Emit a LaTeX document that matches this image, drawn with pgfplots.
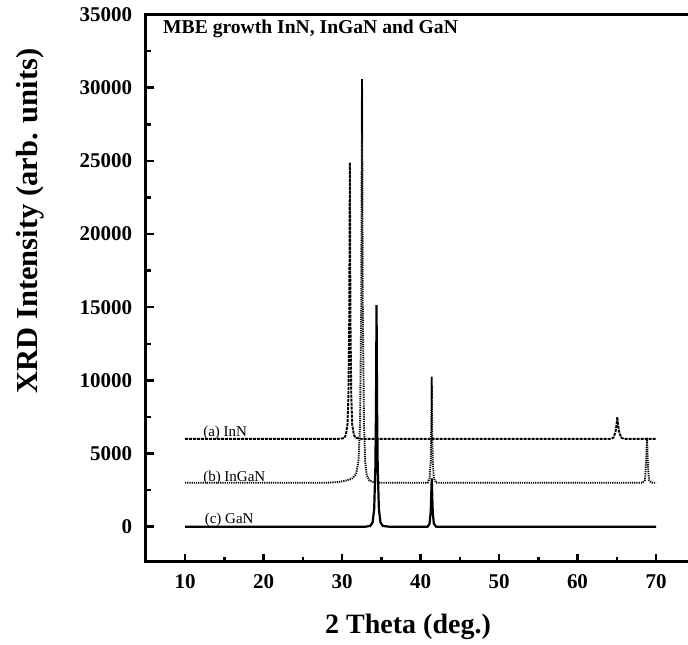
\documentclass[border=0pt]{standalone}
\usepackage{fontspec}
\setmainfont{Liberation Serif}
\usepackage{pgfplots}
\pgfplotsset{compat=1.18}
\begin{document}
\begin{tikzpicture}[x=1pt,y=1pt]
\begin{axis}[
  at={(145.75pt,83.2pt)}, anchor=south west,
  scale only axis, width=549.5pt, height=547.2pt,
  xmin=5, xmax=75, ymin=-2400, ymax=35000,
  xtick={10,20,...,70}, minor xtick={15,25,...,65},
  ytick={0,5000,...,35000}, minor ytick={2500,7500,...,32500},
  tick pos=left, tick align=inside,
  major tick length=8pt, minor tick length=5pt,
  tick style={line width=2.5pt, black},
  axis line style={line width=3pt},
  /pgf/number format/assume math mode=true,
  /pgf/number format/1000 sep={},
  scaled y ticks=false,
  ticklabel style={font=\bfseries\fontsize{21}{24}\selectfont},
  yticklabel style={anchor=east, inner sep=0pt, xshift=-13.5pt},
  xticklabel style={anchor=north, inner sep=0pt, yshift=-13pt},
]
% (a) InN
\addplot[black, line width=1.9pt, dash pattern=on 3pt off 1pt] coordinates {
(10,6000) (29.5,6000) (30.3,6050) (30.5,6300) (30.7,7000) (30.82,9000) (30.92,14000)
(31.0,24900) (31.08,14000) (31.18,9000) (31.3,7000) (31.5,6300) (31.7,6080) (32.5,6000)
(64.3,6000) (64.6,6100) (64.85,6500) (64.98,7000) (65.07,7500) (65.16,7000) (65.3,6500)
(65.55,6100) (65.9,6000) (70,6000)};
% (b) InGaN
\addplot[black, line width=1.9pt, dash pattern=on 1.2pt off 1pt] coordinates {
(10,3000) (28,3000) (29.5,3050) (30.5,3150) (31.3,3300) (31.8,3600) (32.1,4500) (32.3,7000)
(32.45,15000) (32.55,30600) (32.65,15000) (32.8,7000) (32.95,4500) (33.15,3500) (33.5,3150)
(34,3050) (35,3000) (40.9,3000) (41.15,3300) (41.3,4500) (41.38,7000) (41.43,10250)
(41.48,7000) (41.56,4500) (41.7,3300) (42,3000) (68.3,3000) (68.6,3200) (68.75,4500)
(68.85,6100) (68.95,4500) (69.1,3200) (69.4,3000) (70,3000)};
% (c) GaN
\addplot[black, line width=2.2pt] coordinates {
(10,0) (33,0) (33.6,50) (33.9,300) (34.1,1200) (34.25,4000) (34.33,8000) (34.4,15150)
(34.47,8000) (34.55,4000) (34.7,1200) (34.9,300) (35.2,50) (36,0) (40.9,0) (41.15,200)
(41.3,1000) (41.43,3300) (41.56,1000) (41.7,200) (42,0) (70,0)};
\node[anchor=base west, inner sep=0pt, font=\fontsize{15}{17}\selectfont] at (axis cs:12.3,6150) {(a) InN};
\node[anchor=base west, inner sep=0pt, font=\fontsize{15}{17}\selectfont] at (axis cs:12.3,3100) {(b) InGaN};
\node[anchor=base west, inner sep=0pt, font=\fontsize{15}{17}\selectfont] at (axis cs:12.5,200) {(c) GaN};
\end{axis}
\node[anchor=west, inner sep=0pt, font=\bfseries\fontsize{19.6}{22}\selectfont] at (163,616) {MBE growth InN, InGaN and GaN};
\node[inner sep=0pt, font=\bfseries\fontsize{28}{32}\selectfont] at (408,18) {2 Theta (deg.)};
\node[rotate=90, inner sep=0pt, font=\bfseries\fontsize{30.5}{34}\selectfont] at (30,424) {XRD Intensity (arb. units)};
\pgfresetboundingbox
\useasboundingbox (0,0) rectangle (688,645);
\end{tikzpicture}
\end{document}
